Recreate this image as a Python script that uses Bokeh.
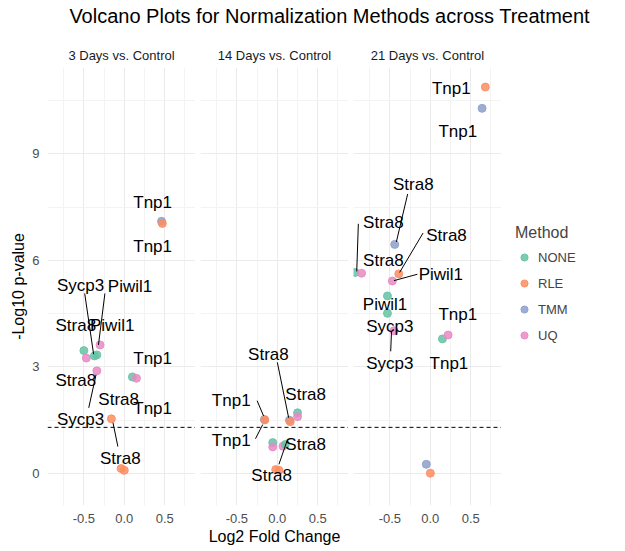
from bokeh.plotting import figure
from bokeh.models import Div, Span, Legend, LegendItem, Range1d, FixedTicker, ColumnDataSource
from bokeh.layouts import row, column
from bokeh.core.properties import value
from bokeh.embed import file_html
from bokeh.resources import INLINE

FONT = "Liberation Sans"
methods = ["NONE", "RLE", "TMM", "UQ"]
colors = {"NONE": "#66C2A5", "RLE": "#FC8D62", "TMM": "#8DA0CB", "UQ": "#E78AC3"}
panel_titles = ["3 Days vs. Control", "14 Days vs. Control", "21 Days vs. Control"]

# points per panel: log2 fold change, -log10 p, method
p1_x = [0.46, 0.47, -0.50, -0.47, -0.37, -0.34, -0.30, -0.34, 0.10, 0.15, -0.16, -0.04, 0.00]
p1_y = [7.10, 7.04, 3.46, 3.25, 3.31, 3.34, 3.62, 2.89, 2.72, 2.68, 1.54, 0.14, 0.09]
p1_m = ["TMM", "RLE", "NONE", "UQ", "NONE", "NONE", "UQ", "UQ", "NONE", "UQ", "RLE", "RLE", "RLE"]

p2_x = [-0.16, -0.155, -0.057, -0.057, 0.07, 0.10, -0.02, 0.02, 0.15, 0.16, 0.25, 0.25]
p2_y = [1.52, 1.51, 0.87, 0.75, 0.77, 0.82, 0.11, 0.09, 1.50, 1.46, 1.71, 1.60]
p2_m = ["TMM", "RLE", "NONE", "UQ", "UQ", "NONE", "RLE", "RLE", "TMM", "RLE", "NONE", "UQ"]

p3_x = [0.68, 0.64, -0.44, -0.93, -0.85, -0.39, -0.47, -0.53, -0.53, -0.45, 0.15, 0.22, -0.05, 0.00]
p3_y = [10.88, 10.28, 6.45, 5.66, 5.64, 5.62, 5.42, 5.00, 4.51, 4.02, 3.79, 3.90, 0.26, 0.01]
p3_m = ["RLE", "TMM", "TMM", "NONE", "UQ", "RLE", "UQ", "NONE", "NONE", "UQ", "NONE", "UQ", "TMM", "RLE"]

# gene labels per panel
l1_x = [0.35, 0.35, -0.54, 0.07, -0.60, -0.15, 0.35, -0.60, -0.07, 0.35, -0.54, -0.05]
l1_y = [7.62, 6.38, 5.29, 5.27, 4.18, 4.18, 3.25, 2.61, 2.08, 1.82, 1.51, 0.42]
l1_t = ["Tnp1", "Tnp1", "Sycp3", "Piwil1", "Stra8", "Piwil1", "Tnp1", "Stra8", "Stra8", "Tnp1", "Sycp3", "Stra8"]

l2_x = [-0.11, 0.35, -0.57, -0.57, 0.35, -0.07]
l2_y = [3.34, 2.22, 2.05, 0.92, 0.82, -0.05]
l2_t = ["Stra8", "Stra8", "Tnp1", "Tnp1", "Stra8", "Stra8"]

l3_x = [0.26, 0.34, -0.21, -0.58, 0.20, -0.58, 0.13, -0.56, -0.50, 0.34, -0.50, 0.23]
l3_y = [10.84, 9.63, 8.15, 7.06, 6.70, 5.99, 5.61, 4.77, 4.15, 4.48, 3.11, 3.11]
l3_t = ["Tnp1", "Tnp1", "Stra8", "Stra8", "Stra8", "Stra8", "Piwil1", "Piwil1", "Sycp3", "Tnp1", "Sycp3", "Tnp1"]

# label leader segments: x0, y0, x1, y1
s1 = ([-0.49, -0.24, -0.44, -0.14], [5.07, 5.07, 1.85, 1.43], [-0.38, -0.32, -0.35, -0.08], [3.36, 3.62, 2.78, 0.76])
s2 = ([0.00, -0.25, -0.27, 0.12], [3.13, 2.05, 0.98, 0.92], [0.14, -0.17, -0.18, 0.02], [1.57, 1.62, 1.38, 0.26])
s3 = ([-0.28, -0.89, -0.09, -0.16, -0.48], [7.87, 7.03, 6.77, 5.61, 3.99], [-0.42, -0.91, -0.38, -0.45, -0.49], [6.52, 5.69, 5.66, 5.43, 3.44])

panels = [(p1_x, p1_y, p1_m, l1_x, l1_y, l1_t, s1),
          (p2_x, p2_y, p2_m, l2_x, l2_y, l2_t, s2),
          (p3_x, p3_y, p3_m, l3_x, l3_y, l3_t, s3)]

H = 514
figs = []
for i, (px, py, pm, lx, ly, lt, seg) in enumerate(panels):
    left = 47 if i == 0 else 5
    w = 148 + left
    p = figure(width=w, height=H, output_backend="svg", toolbar_location=None,
               x_range=Range1d(-0.95, 0.88), y_range=Range1d(-0.9, 11.43),
               min_border_left=left, min_border_right=0, min_border_top=34,
               min_border_bottom=40, title=panel_titles[i])
    p.title.align = "center"
    p.title.text_font = FONT
    p.title.text_font_style = "normal"
    p.title.text_font_size = "13px"
    p.title.text_color = "#1A1A1A"
    p.outline_line_color = None
    p.xaxis.ticker = FixedTicker(ticks=[-0.5, 0, 0.5], minor_ticks=[-0.75, -0.25, 0.25, 0.75])
    p.yaxis.ticker = FixedTicker(ticks=[0, 3, 6, 9], minor_ticks=[1.5, 4.5, 7.5, 10.5])
    p.xaxis.major_label_overrides = {-0.5: "-0.5", 0: "0.0", 0.5: "0.5"}
    for ax in (p.xaxis, p.yaxis):
        ax.axis_line_color = None
        ax.major_tick_line_color = None
        ax.minor_tick_line_color = None
        ax.major_tick_out = 0
        ax.major_label_standoff = 4
        ax.axis_label_standoff = 2
        ax.major_label_text_font = FONT
        ax.major_label_text_font_size = "13px"
        ax.major_label_text_color = "#4D4D4D"
        ax.axis_label_text_font = FONT
        ax.axis_label_text_font_size = "16px"
        ax.axis_label_text_font_style = "normal"
        ax.axis_label_text_color = "#000000"
    for g in (p.xgrid, p.ygrid):
        g.grid_line_color = "#EBEBEB"
        g.minor_grid_line_color = "#F3F3F3"
    if i == 0:
        p.yaxis.axis_label = "-Log10 p-value"
    else:
        p.yaxis.visible = False
    if i == 1:
        p.xaxis.axis_label = "Log2 Fold Change"
    p.add_layout(Span(location=1.3, dimension="width", line_dash="4 3",
                      line_color="black", line_width=1))
    src = ColumnDataSource(dict(x=px, y=py, c=[colors[m] for m in pm]))
    p.scatter("x", "y", source=src, size=8, color="c", alpha=0.85)
    p.segment(x0=seg[0], y0=seg[1], x1=seg[2], y1=seg[3], line_color="black", line_width=1)
    p.text(x=lx, y=ly, text=lt, text_align="center", text_baseline="middle",
           text_font=value(FONT), text_font_size="17px", text_color="black")
    figs.append(p)

lg = figure(width=107, height=H, output_backend="svg", toolbar_location=None,
            x_range=Range1d(0, 1), y_range=Range1d(0, 1), min_border=0)
lg.outline_line_color = None
lg.axis.visible = False
lg.grid.visible = False
items = []
for m in methods:
    r = lg.scatter(x=[-5], y=[-5], size=8, color=colors[m], alpha=0.85)
    items.append(LegendItem(label=m, renderers=[r]))
leg = Legend(items=items, title="Method", location=(14, 160), border_line_color=None,
             background_fill_alpha=0, label_text_font=FONT, label_text_font_size="13px",
             title_text_font=FONT, title_text_font_size="16px", title_text_font_style="normal",
             spacing=6, glyph_width=18, label_height=18, padding=4)
lg.add_layout(leg)

title = Div(text="Volcano Plots for Normalization Methods across Treatment", width=609, height=26,
            styles={"font-family": FONT, "font-size": "20px", "color": "#000",
                    "text-align": "center", "padding-left": "40px", "margin-top": "2px"})

layout = column(title, row(*figs, lg), spacing=0)
open("out.html", "w").write(file_html(layout, INLINE))
